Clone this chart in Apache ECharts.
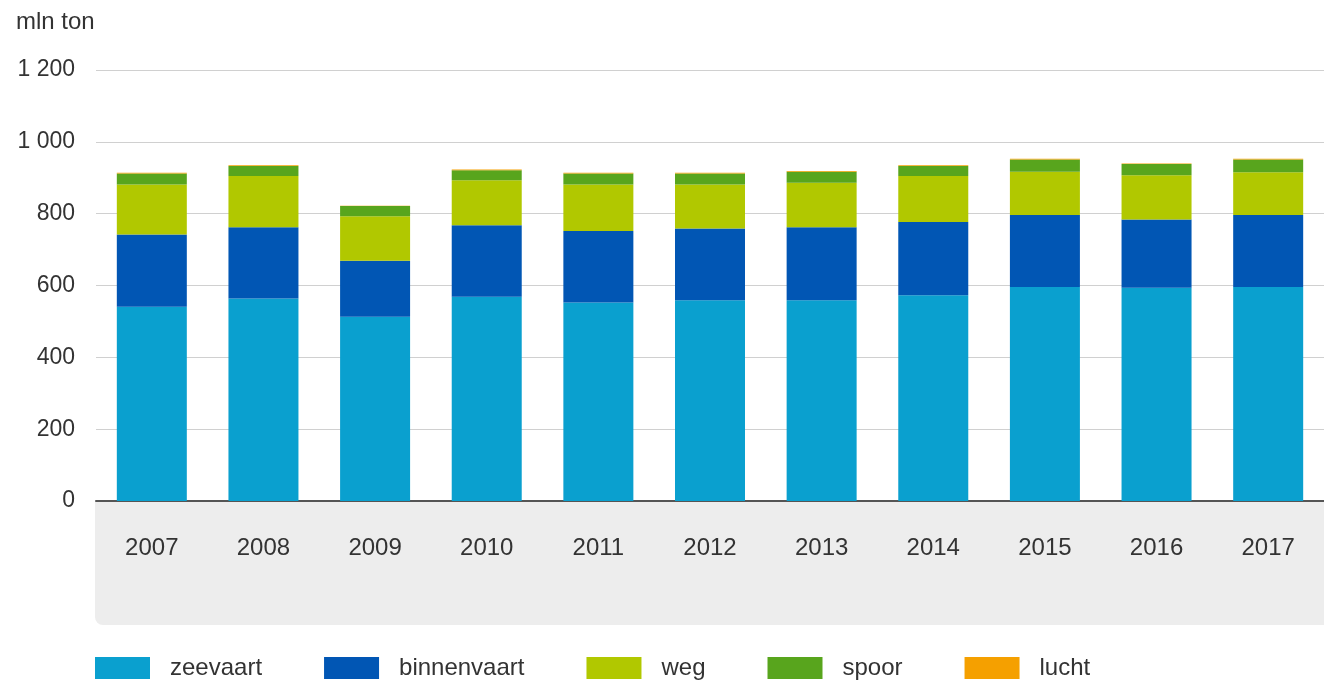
<!DOCTYPE html>
<html>
<head>
<meta charset="utf-8">
<script src="https://cdn.jsdelivr.net/npm/echarts@6/dist/echarts.min.js"></script>
<style>
  html, body { margin: 0; padding: 0; background: #fff; }
  #chart { width: 1324px; height: 684px; }
</style>
</head>
<body>
<div id="chart"></div>
<script>
var jaren = ['2007', '2008', '2009', '2010', '2011', '2012', '2013', '2014', '2015', '2016', '2017'];
var zeevaart    = [541, 564, 513, 569, 553, 559, 559, 573, 596, 594, 596];
var binnenvaart = [201, 198, 156, 199, 199, 200, 203, 204, 200, 190, 200];
var weg         = [139, 143, 124, 125, 129, 122, 124, 128, 121, 123, 119];
var spoor       = [31, 28, 28, 28, 31, 31, 31, 28, 34, 31, 36];
var lucht       = [2, 2, 1, 2, 2, 2, 2, 2, 2, 2, 2];

var font = "'Liberation Sans Narrow', 'Liberation Sans', sans-serif";
var tekst = '#333333';

var myChart = echarts.init(document.getElementById('chart'));

function reeks(naam, data, kleur) {
    return {
        name: naam,
        type: 'bar',
        stack: 'totaal',
        barWidth: 70,
        data: data,
        itemStyle: { color: kleur },
        emphasis: { disabled: true }
    };
}

var option = {
    animation: false,
    textStyle: { fontFamily: font },
    title: {
        text: 'mln ton',
        left: 11,
        top: 5,
        textStyle: { fontFamily: font, fontSize: 24, fontWeight: 'normal', color: tekst }
    },
    graphic: [{
        // grijze band onder de x-as
        type: 'rect',
        left: 95,
        top: 501,
        shape: { width: 1240, height: 124, r: [0, 0, 0, 8] },
        style: { fill: '#ededed' },
        z: -10
    }],
    grid: {
        left: 96,
        top: 70,
        width: 1243,
        height: 431
    },
    legend: {
        left: 90,
        top: 651,
        itemWidth: 55,
        itemHeight: 22,
        itemGap: 62,
        icon: 'rect',
        textStyle: { fontFamily: font, fontSize: 24, color: tekst, padding: [0, 0, 0, 15] },
        data: ['zeevaart', 'binnenvaart', 'weg', 'spoor', 'lucht']
    },
    xAxis: {
        type: 'category',
        data: jaren,
        axisTick: { show: false },
        axisLine: { lineStyle: { color: '#555555', width: 2 } },
        axisLabel: { fontFamily: font, fontSize: 24, color: tekst, margin: 35 }
    },
    yAxis: {
        type: 'value',
        min: 0,
        max: 1200,
        interval: 200,
        axisLine: { show: false },
        axisTick: { show: false },
        splitLine: { lineStyle: { color: '#d0d0d0', width: 1 } },
        axisLabel: {
            fontFamily: font,
            fontSize: 23,
            color: tekst,
            margin: 21,
            formatter: function (v) {
                return String(v).replace(/\B(?=(\d{3})+(?!\d))/g, ' ');
            }
        }
    },
    series: [
        reeks('zeevaart', zeevaart, '#0aa0cf'),
        reeks('binnenvaart', binnenvaart, '#0156b4'),
        reeks('weg', weg, '#b1c800'),
        reeks('spoor', spoor, '#58a51d'),
        reeks('lucht', lucht, '#f5a000')
    ]
};

myChart.setOption(option);
</script>
</body>
</html>
